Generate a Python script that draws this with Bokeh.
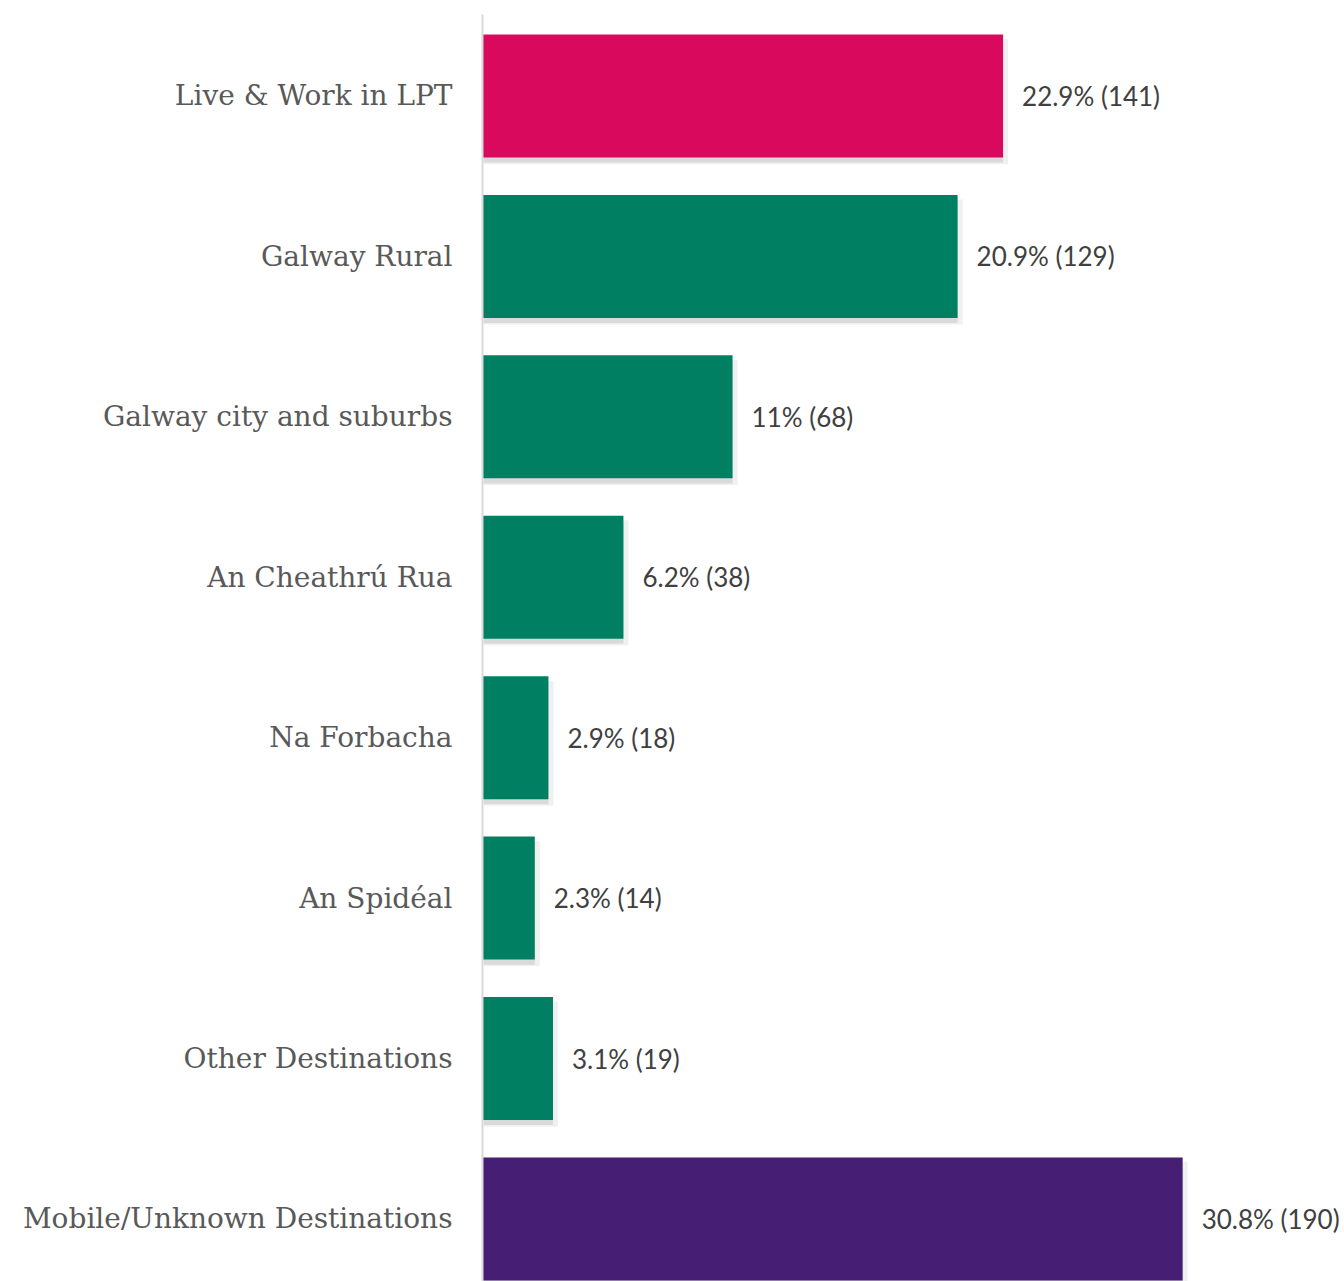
from bokeh.plotting import figure
from bokeh.models import Range1d, FixedTicker, ColumnDataSource
from bokeh.core.properties import value
from bokeh.embed import file_html
from bokeh.resources import INLINE

categories = ["Live & Work in LPT", "Galway Rural", "Galway city and suburbs",
              "An Cheathrú Rua", "Na Forbacha", "An Spidéal",
              "Other Destinations", "Mobile/Unknown Destinations"]
percents = [22.9, 20.9, 11.0, 6.2, 2.9, 2.3, 3.1, 30.8]
counts = [141, 129, 68, 38, 18, 14, 19, 190]
labels = ["22.9% (141)", "20.9% (129)", "11% (68)", "6.2% (38)",
          "2.9% (18)", "2.3% (14)", "3.1% (19)", "30.8% (190)"]
colors = ["#D90A5E", "#007F62", "#007F62", "#007F62", "#007F62",
          "#007F62", "#007F62", "#461E74"]

n = len(categories)
ypos = [n - 1 - i for i in range(n)]

src = ColumnDataSource(dict(y=ypos, v=percents, c=colors, lab=labels,
                            ys=[y - 0.035 for y in ypos],
                            vs=[v + 0.22 for v in percents]))

p = figure(width=1344, height=1281, output_backend="svg", toolbar_location=None,
           x_range=Range1d(0, 37.92), y_range=Range1d(-0.39, 7.508),
           min_border_left=482, min_border_top=14, min_border_bottom=0,
           min_border_right=0)
p.outline_line_color = None
p.xgrid.visible = False
p.ygrid.visible = False
p.xaxis.visible = False

# soft shadow
p.hbar(y="ys", right="vs", left=0.05, height=0.78, source=src,
       fill_color="#000000", fill_alpha=0.06, line_color=None)
p.hbar(y="ys", right="v", left=0.05, height=0.76, source=src,
       fill_color="#000000", fill_alpha=0.09, line_color=None)
p.hbar(y="y", right="v", left=0, height=0.767, source=src,
       fill_color="c", line_color=None)

p.text(x="v", y="y", text="lab", source=src, x_offset=19,
       text_font=value("Lato"), text_font_size="26px", text_color="#404040",
       text_baseline="middle", text_align="left")

yax = p.yaxis[0]
yax.ticker = FixedTicker(ticks=ypos)
yax.major_label_overrides = {y: c for y, c in zip(ypos, categories)}
yax.major_tick_line_color = None
yax.minor_tick_line_color = None
yax.axis_line_color = "#d9d9d9"
yax.axis_line_width = 2
yax.major_label_standoff = 24
yax.major_label_text_font = "DejaVu Serif"
yax.major_label_text_font_size = "28px"
yax.major_label_text_color = "#595959"

open("out.html", "w").write(file_html(p, INLINE))
